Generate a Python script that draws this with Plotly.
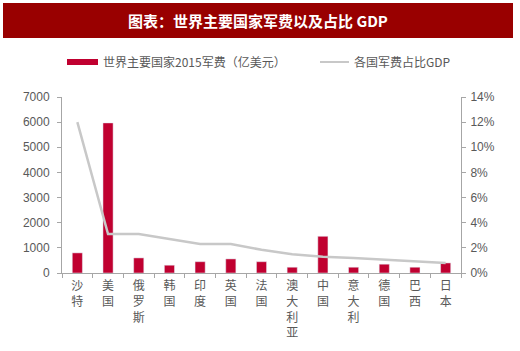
import plotly.graph_objects as go

countries = ["沙特", "美国", "俄罗斯", "韩国", "印度", "英国", "法国", "澳大利亚", "中国", "意大利", "德国", "巴西", "日本"]
spending = [800, 5970, 600, 310, 450, 560, 450, 230, 1460, 230, 350, 230, 400]
gdp_share = [12.0, 3.1, 3.1, 2.7, 2.3, 2.3, 1.85, 1.5, 1.3, 1.2, 1.07, 0.95, 0.8]
left_ticks = [0, 1000, 2000, 3000, 4000, 5000, 6000, 7000]
right_ticks = [0, 2, 4, 6, 8, 10, 12, 14]

W, H = 520, 351
L, R, T, B = 62, 461, 97, 273

def px(x):
    return (x - L) / (R - L)

def py(y):
    return (B - y) / (B - T)

labels = ["<br>".join(list(c)) for c in countries]
gray = "#595959"
axis_col = "#A6A6A6"

fig = go.Figure()
fig.add_trace(go.Bar(x=labels, y=spending, marker_color="#C00030", width=0.33,
                     name="世界主要国家2015军费（亿美元）", showlegend=False))
fig.add_trace(go.Scatter(x=labels, y=gdp_share, yaxis="y2", mode="lines",
                         line=dict(color="#C8C8C8", width=2.5),
                         name="各国军费占比GDP", showlegend=False))

font_main = "Liberation Sans, Arial, sans-serif"
cjk = "Noto Sans CJK SC"

fig.update_layout(
    width=W, height=H,
    margin=dict(l=L, r=W - R, t=T, b=H - B, pad=0, autoexpand=False),
    paper_bgcolor="white", plot_bgcolor="white",
    bargap=0.67,
    xaxis=dict(showline=True, linecolor=axis_col, linewidth=1, ticks="outside",
               tickson="boundaries", ticklen=4, tickcolor=axis_col,
               tickfont=dict(family=cjk, size=12, color=gray), tickangle=0,
               ticklabelstandoff=2, automargin=False,
               showgrid=False, fixedrange=True),
    yaxis=dict(range=[0, 7000], tickvals=left_ticks, showline=True, linecolor=axis_col,
               ticks="outside", ticklen=4, tickcolor=axis_col, showgrid=False, zeroline=False,
               ticklabelstandoff=5, automargin=False,
               tickfont=dict(family=font_main, size=12, color=gray)),
    yaxis2=dict(range=[0, 14], tickvals=right_ticks, ticktext=[f"{v}%" for v in right_ticks],
                overlaying="y", side="right", showline=True, linecolor=axis_col,
                ticks="outside", ticklen=4, tickcolor=axis_col, showgrid=False, zeroline=False,
                ticklabelstandoff=2, automargin=False,
                tickfont=dict(family=font_main, size=12, color=gray)),
    showlegend=False,
)

# title banner
fig.add_shape(type="rect", xref="paper", yref="paper",
              x0=px(3), x1=px(513), y0=py(38), y1=py(3),
              fillcolor="#990000", line=dict(width=0), layer="below")
fig.add_annotation(text="<b>图表：世界主要国家军费以及占比 GDP</b>", xref="paper", yref="paper",
                   x=px(258), y=py(21), showarrow=False, xanchor="center", yanchor="middle",
                   font=dict(family=cjk, size=15, color="white"))

# legend
fig.add_shape(type="rect", xref="paper", yref="paper",
              x0=px(67), x1=px(98), y0=py(65), y1=py(59),
              fillcolor="#C00030", line=dict(width=0))
fig.add_annotation(text="世界主要国家2015军费（亿美元）", xref="paper", yref="paper",
                   x=px(101), y=py(62), showarrow=False, xanchor="left", yanchor="middle",
                   font=dict(family=cjk, size=12, color=gray))
fig.add_shape(type="line", xref="paper", yref="paper",
              x0=px(320), x1=px(349), y0=py(62), y1=py(62),
              line=dict(color="#C8C8C8", width=2))
fig.add_annotation(text="各国军费占比GDP", xref="paper", yref="paper",
                   x=px(352), y=py(62), showarrow=False, xanchor="left", yanchor="middle",
                   font=dict(family=cjk, size=12, color=gray))

fig.write_html("out.html")
